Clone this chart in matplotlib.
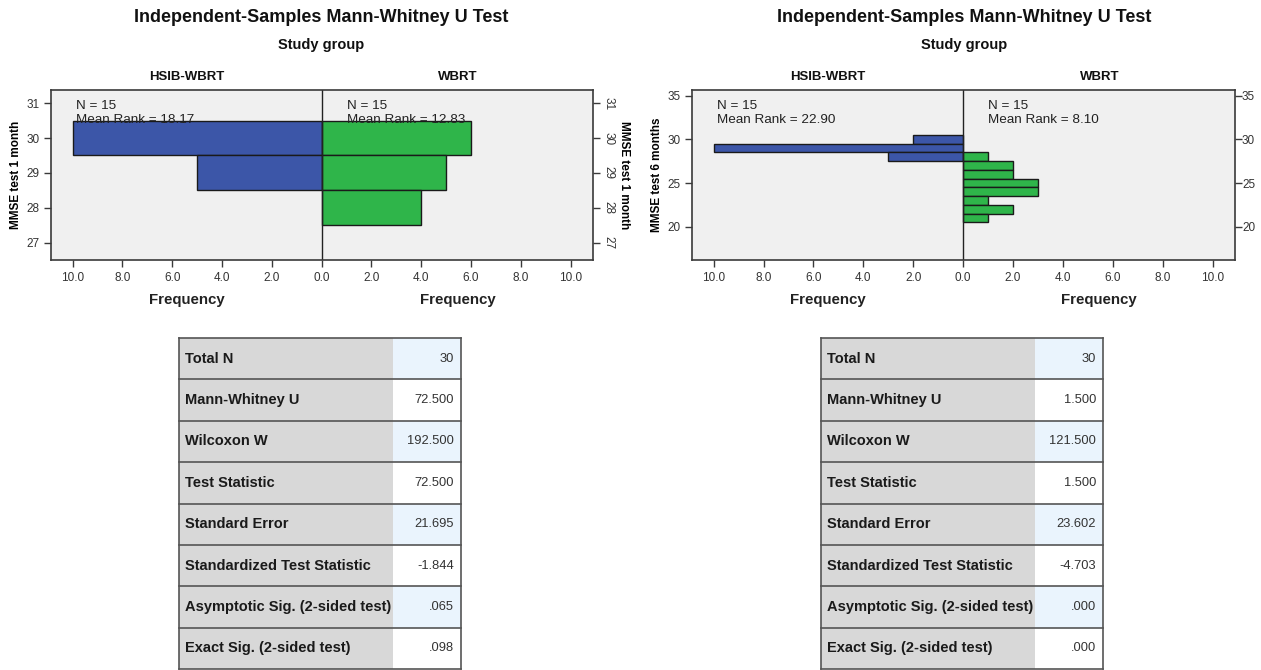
import numpy as np
import matplotlib.pyplot as plt
from matplotlib.patches import Rectangle

plt.rcParams['font.family'] = ['Liberation Sans', 'DejaVu Sans']

# MMSE score bins and frequencies per study group
groups = ['HSIB-WBRT', 'WBRT']
scores_1m = [30, 29, 28]
hsib_1m = [10, 5, 0]
wbrt_1m = [6, 5, 4]

scores_6m = [30, 29, 28, 27, 26, 25, 24, 23, 22, 21]
hsib_6m = [2, 10, 3, 0, 0, 0, 0, 0, 0, 0]
wbrt_6m = [0, 0, 1, 2, 2, 3, 3, 1, 2, 1]

stat_labels = ['Total N', 'Mann-Whitney U', 'Wilcoxon W', 'Test Statistic',
               'Standard Error', 'Standardized Test Statistic',
               'Asymptotic Sig. (2-sided test)', 'Exact Sig. (2-sided test)']
stats_1m = ['30', '72.500', '192.500', '72.500', '21.695', '-1.844', '.065', '.098']
stats_6m = ['30', '1.500', '121.500', '1.500', '23.602', '-4.703', '.000', '.000']

BLUE = '#3c56a8'
GREEN = '#2fb54a'
BG = '#f0f0f0'
EDGE = '#3a3a3a'

W, H = 1261, 670
fig = plt.figure(figsize=(W / 100, H / 100), dpi=100)


def px_axes(x0, y0, x1, y1):
    return fig.add_axes([x0 / W, 1 - y1 / H, (x1 - x0) / W, (y1 - y0) / H])


def mean_ranks(scores, a, b):
    vals = np.repeat(scores, a).tolist() + np.repeat(scores, b).tolist()
    vals = np.array(vals, dtype=float)
    order = np.sort(vals)
    ranks = np.array([np.mean(np.where(order == v)[0] + 1) for v in vals])
    na = int(np.sum(a))
    return ranks[:na].mean(), ranks[na:].mean()


def pyramid(ax, scores, a, b, ylim, yticks, ylabel, right_label):
    scores = np.array(scores)
    a = np.array(a)
    b = np.array(b)
    ax.set_facecolor(BG)
    ax.barh(scores[a > 0], -a[a > 0], height=1, color=BLUE, edgecolor='#1a1a1a', lw=1)
    ax.barh(scores[b > 0], b[b > 0], height=1, color=GREEN, edgecolor='#1a1a1a', lw=1)
    ax.axvline(0, color='#222222', lw=1)
    ax.set_xlim(-10.87, 10.9)
    ax.set_ylim(*ylim)
    xt = np.arange(-10, 11, 2)
    ax.set_xticks(xt)
    ax.set_xticklabels([f'{abs(v):.1f}' for v in xt], fontsize=8.5, color='#333333')
    ax.set_yticks(yticks)
    ax.set_yticklabels([str(v) for v in yticks], fontsize=8.5, color='#333333')
    ax.tick_params(direction='out', length=5, color=EDGE, width=1)
    ax.set_ylabel(ylabel, fontsize=8.5, fontweight='bold', labelpad=3)
    for s in ax.spines.values():
        s.set_color(EDGE)
        s.set_linewidth(1.2)

    tw = ax.twinx()
    tw.set_ylim(*ylim)
    tw.set_yticks(yticks)
    tw.tick_params(direction='out', length=5, color=EDGE, width=1)
    if right_label:
        tw.set_yticklabels([str(v) for v in yticks], fontsize=8.5, color='#333333',
                           rotation=-90, va='center')
        tw.tick_params(pad=2)
        tw.set_ylabel(ylabel, fontsize=8.5, fontweight='bold', rotation=-90, labelpad=11)
    else:
        tw.set_yticklabels([str(v) for v in yticks], fontsize=8.5, color='#333333')
        tw.tick_params(pad=0)
    for s in tw.spines.values():
        s.set_visible(False)

    ra, rb = mean_ranks(scores, a, b)
    for xf, n, r in [(0.046, a.sum(), ra), (0.546, b.sum(), rb)]:
        ax.text(xf, 0.905, f'N = {n}', transform=ax.transAxes, fontsize=9.7,
                va='center', color='#222222')
        ax.text(xf, 0.825, f'Mean Rank = {r:.2f}', transform=ax.transAxes,
                fontsize=9.7, va='center', color='#222222', zorder=1)
    for xf, g in zip([0.25, 0.75], groups):
        ax.text(xf, 1.075, g, transform=ax.transAxes, ha='center', va='center',
                fontsize=9.5, fontweight='bold', color='#111111')
        ax.text(xf, -0.235, 'Frequency', transform=ax.transAxes, ha='center',
                va='center', fontsize=10.8, fontweight='bold', color='#222222')


def stat_table(ax, values):
    ax.set_xlim(0, 1)
    ax.set_ylim(len(stat_labels), 0)
    ax.axis('off')
    split = 0.76
    for i, (lab, val) in enumerate(zip(stat_labels, values)):
        ax.add_patch(Rectangle((0, i), split, 1, facecolor='#d8d8d8', edgecolor='none'))
        ax.add_patch(Rectangle((split, i), 1 - split, 1,
                               facecolor='#eaf4fd' if i % 2 == 0 else 'white',
                               edgecolor='none'))
        ax.text(0.022, i + 0.5, lab, fontsize=10.5, fontweight='bold', va='center',
                color='#1a1a1a')
        ax.text(0.975, i + 0.5, val, fontsize=9.3, va='center', ha='right',
                color='#333333')
    for i in range(len(stat_labels) + 1):
        ax.plot([0, 1], [i, i], color='#555555', lw=1.2, clip_on=False)
    ax.plot([0, 0], [0, len(stat_labels)], color='#555555', lw=1.2, clip_on=False)
    ax.plot([1, 1], [0, len(stat_labels)], color='#555555', lw=1.2, clip_on=False)


ax1 = px_axes(51, 90, 593, 260)
pyramid(ax1, scores_1m, hsib_1m, wbrt_1m, (26.5, 31.38), [27, 28, 29, 30, 31],
        'MMSE test 1 month', True)
ax2 = px_axes(692, 90, 1235, 260)
pyramid(ax2, scores_6m, hsib_6m, wbrt_6m, (16.2, 35.65), [20, 25, 30, 35],
        'MMSE test 6 months', False)

for xc in [321, 964]:
    fig.text(xc / W, 1 - 17 / H, 'Independent-Samples Mann-Whitney U Test',
             ha='center', va='center', fontsize=13, fontweight='bold', color='#111111')
    fig.text(xc / W, 1 - 45 / H, 'Study group', ha='center', va='center',
             fontsize=10.5, fontweight='bold', color='#111111')

stat_table(px_axes(179, 338, 461, 669), stats_1m)
stat_table(px_axes(821, 338, 1103, 669), stats_6m)

fig.savefig('out.png', dpi=100, facecolor='white')
